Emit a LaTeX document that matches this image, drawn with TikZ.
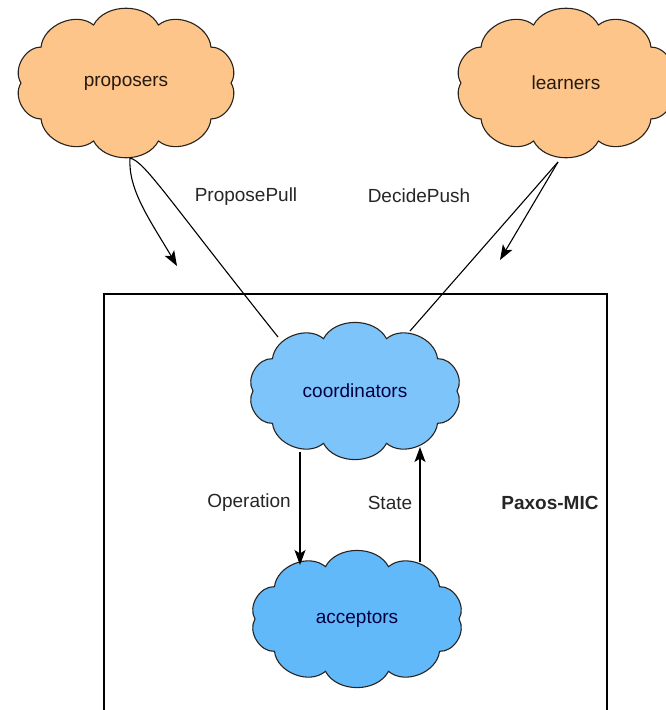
\documentclass[tikz,border=0pt]{standalone}
\usepackage{fontspec}
\setmainfont{Liberation Sans}
\usetikzlibrary{arrows.meta,calc,backgrounds}

\definecolor{propfill}{RGB}{253,197,137}
\definecolor{coordfill}{RGB}{125,196,250}
\definecolor{accfill}{RGB}{98,185,250}
\definecolor{cloudedge}{RGB}{40,35,30}

% #1 centre node, #2 half width, #3 half height, #4 fill
\newcommand{\puffcloud}[4]{%
  \filldraw[cloudline, fill=#4] ($(#1)+(#2,0)$)
    \foreach \ang in {36,72,...,360} {
      to[bend right=62] ($(#1)+({#2*cos(\ang)},{-#3*sin(\ang)})$)
    } -- cycle;}

\begin{document}
\begin{tikzpicture}[x=1pt,y=-1pt,
  cloudline/.style={draw=cloudedge, line width=1.1pt},
  cloudtext/.style={inner sep=0pt, font=\fontsize{19}{22}\selectfont},
  msg/.style={line width=1.1pt},
  tip/.style={-{Stealth[length=15pt,width=11pt,inset=3.5pt]}},
  lbl/.style={font=\fontsize{19}{22}\selectfont, text=black!85}]

\useasboundingbox (0,0) rectangle (665,710);
\clip (0,0) rectangle (665,710);

\draw[line width=1.3pt] (104,730) -- (104,294) -- (607,294) -- (607,730);

\node[cloudtext, text=black!80!brown] (proposers) at (126,83) {proposers};
\node[cloudtext, text=black!80!brown] (learners) at (566,83) {learners};
\node[cloudtext, text=black!75!blue] (coordinators) at (355,391) {coordinators};
\node[cloudtext, text=black!75!blue] (acceptors) at (357,619) {acceptors};

\begin{scope}[on background layer]
\puffcloud{proposers.center}{105}{61}{propfill}
\puffcloud{learners.center}{105}{61}{propfill}
\puffcloud{coordinators.center}{102}{55}{coordfill}
\puffcloud{acceptors.center}{102}{55}{accfill}
\end{scope}

\coordinate (propout) at ($(proposers.center)+(4,75)$);
\coordinate (learnout) at ($(learners.center)+(-8,79)$);
\coordinate (coordin1) at ($(coordinators.center)+(-77,-54)$);
\coordinate (coordin2) at ($(coordinators.center)+(55,-60)$);
\coordinate (coordop) at ($(coordinators.center)+(-55,61)$);
\coordinate (coordst) at ($(coordinators.center)+(65,56)$);
\coordinate (accop) at ($(acceptors.center)+(-57,-54)$);
\coordinate (accst) at ($(acceptors.center)+(63,-57)$);
\coordinate (pullend) at (177,266);
\coordinate (pushend) at (500,260);

\draw[msg] (propout) .. controls (145,162) and (165,195) .. (coordin1);
\draw[msg, tip] (propout) .. controls (128,190) and (150,220) .. (pullend);
\draw[msg] (learnout) -- (coordin2);
\draw[msg, tip] (learnout) -- (pushend);

\draw[msg, tip] (coordop) -- (accop);
\draw[msg, tip] (accst) -- (coordst);

\node[lbl] (pull) at (246,197) {ProposePull};
\node[lbl] (push) at (419,196) {DecidePush};
\node[lbl] (op) at (249,503) {Operation};
\node[lbl] (state) at (390,503) {State};
\node[lbl, font=\fontsize{19}{22}\selectfont\bfseries] (paxos) at (550,503) {Paxos-MIC};

\end{tikzpicture}
\end{document}
